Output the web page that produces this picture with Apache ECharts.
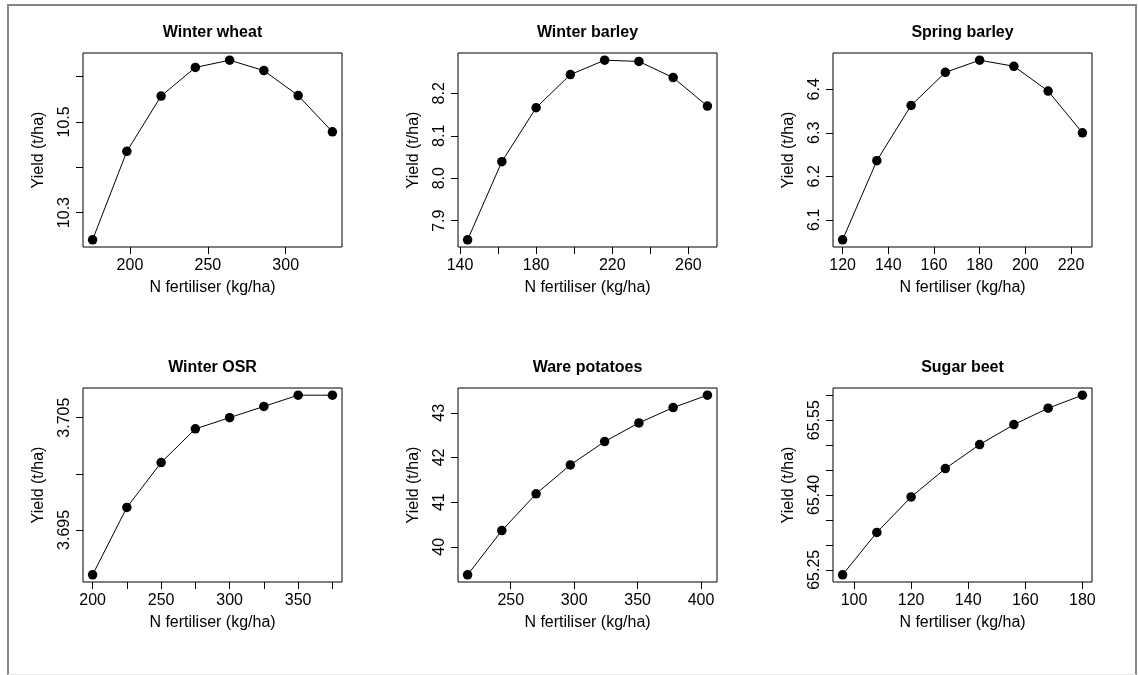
<!DOCTYPE html>
<html>
<head>
<meta charset="utf-8">
<title>N fertiliser response curves</title>
<script src="https://cdn.jsdelivr.net/npm/echarts@6/dist/echarts.min.js"></script>
<style>
    html, body { margin: 0; padding: 0; background: #fff; }
    #frame {
        position: absolute; left: 7px; top: 4px; width: 1130px; height: 671px;
        box-sizing: border-box;
        border-left: 2px solid #858585; border-top: 2px solid #858585; border-right: 2px solid #858585;
        border-bottom: 1px solid #e8e8e8;
    }
    #chart { position: absolute; left: 0; top: 0; width: 1138px; height: 675px; }
</style>
</head>
<body>
<div id="frame"></div>
<div id="chart"></div>
<script>
    // --- data ---
    const titles = ['Winter wheat', 'Winter barley', 'Spring barley', 'Winter OSR', 'Ware potatoes', 'Sugar beet'];

    const wheatN = [176, 198, 220, 242, 264, 286, 308, 330];
    const wheatYield = [10.240, 10.435, 10.557, 10.620, 10.636, 10.613, 10.558, 10.478];

    const wBarleyN = [144, 162, 180, 198, 216, 234, 252, 270];
    const wBarleyYield = [7.855, 8.039, 8.166, 8.244, 8.278, 8.275, 8.237, 8.170];

    const sBarleyN = [120, 135, 150, 165, 180, 195, 210, 225];
    const sBarleyYield = [6.054, 6.236, 6.363, 6.439, 6.467, 6.453, 6.396, 6.300];

    const osrN = [200, 225, 250, 275, 300, 325, 350, 375];
    const osrYield = [3.6910, 3.6970, 3.7010, 3.7040, 3.7050, 3.7060, 3.7070, 3.7070];

    const potatoN = [216, 243, 270, 297, 324, 351, 378, 405];
    const potatoYield = [39.374, 40.365, 41.186, 41.834, 42.356, 42.774, 43.116, 43.394];

    const beetN = [96, 108, 120, 132, 144, 156, 168, 180];
    const beetYield = [65.240, 65.325, 65.396, 65.453, 65.501, 65.541, 65.574, 65.600];

    // tick marks and the labels R kept
    const wheatXTicks = [200, 250, 300];
    const wheatXLabels = [200, 250, 300];
    const wheatYTicks = [10.3, 10.4, 10.5, 10.6];
    const wheatYLabels = [10.3, 10.5];

    const wBarleyXTicks = [140, 160, 180, 200, 220, 240, 260];
    const wBarleyXLabels = [140, 180, 220, 260];
    const wBarleyYTicks = [7.9, 8.0, 8.1, 8.2];
    const wBarleyYLabels = [7.9, 8.0, 8.1, 8.2];

    const sBarleyXTicks = [120, 140, 160, 180, 200, 220];
    const sBarleyXLabels = [120, 140, 160, 180, 200, 220];
    const sBarleyYTicks = [6.1, 6.2, 6.3, 6.4];
    const sBarleyYLabels = [6.1, 6.2, 6.3, 6.4];

    const osrXTicks = [200, 225, 250, 275, 300, 325, 350, 375];
    const osrXLabels = [200, 250, 300, 350];
    const osrYTicks = [3.695, 3.700, 3.705];
    const osrYLabels = [3.695, 3.705];

    const potatoXTicks = [250, 300, 350, 400];
    const potatoXLabels = [250, 300, 350, 400];
    const potatoYTicks = [40, 41, 42, 43];
    const potatoYLabels = [40, 41, 42, 43];

    const beetXTicks = [100, 120, 140, 160, 180];
    const beetXLabels = [100, 120, 140, 160, 180];
    const beetYTicks = [65.25, 65.30, 65.35, 65.40, 65.45, 65.50, 65.55, 65.60];
    const beetYLabels = [65.25, 65.40, 65.55];

    const panels = [
        { n: wheatN, y: wheatYield, xt: wheatXTicks, xl: wheatXLabels, yt: wheatYTicks, yl: wheatYLabels, yDec: 1 },
        { n: wBarleyN, y: wBarleyYield, xt: wBarleyXTicks, xl: wBarleyXLabels, yt: wBarleyYTicks, yl: wBarleyYLabels, yDec: 1 },
        { n: sBarleyN, y: sBarleyYield, xt: sBarleyXTicks, xl: sBarleyXLabels, yt: sBarleyYTicks, yl: sBarleyYLabels, yDec: 1 },
        { n: osrN, y: osrYield, xt: osrXTicks, xl: osrXLabels, yt: osrYTicks, yl: osrYLabels, yDec: 3 },
        { n: potatoN, y: potatoYield, xt: potatoXTicks, xl: potatoXLabels, yt: potatoYTicks, yl: potatoYLabels, yDec: 0 },
        { n: beetN, y: beetYield, xt: beetXTicks, xl: beetXLabels, yt: beetYTicks, yl: beetYLabels, yDec: 2 }
    ];

    // layout (R style panels)
    const colLeft = [83, 458, 833];
    const rowTop = [53, 388];
    const boxW = 259, boxH = 194;
    const FONT = '"Liberation Sans", Arial, Helvetica, sans-serif';

    // R pads the data range by 4% each side
    function padRange(arr) {
        let lo = Math.min.apply(null, arr), hi = Math.max.apply(null, arr);
        let d = (hi - lo) * 0.04;
        return [lo - d, hi + d];
    }

    const chart = echarts.init(document.getElementById('chart'), null, { renderer: 'canvas' });

    const title = [], grid = [], xAxis = [], yAxis = [], series = [];

    panels.forEach(function (p, i) {
        const left = colLeft[i % 3], top = rowTop[Math.floor(i / 3)];
        const xr = padRange(p.n), yr = padRange(p.y);

        title.push({
            text: titles[i],
            left: left + boxW / 2,
            top: top - 28,
            textAlign: 'center',
            padding: 0,
            textStyle: { fontFamily: FONT, fontSize: 16, fontWeight: 'bold', color: '#000' }
        });

        grid.push({
            left: left, top: top, width: boxW, height: boxH,
            show: true, borderColor: '#000', borderWidth: 1, backgroundColor: 'transparent',
            containLabel: false, outerBoundsMode: 'none'
        });

        xAxis.push({
            type: 'value', gridIndex: i, min: xr[0], max: xr[1],
            name: 'N fertiliser (kg/ha)', nameLocation: 'middle', nameGap: 33, nameMoveOverlap: false,
            nameTextStyle: { fontFamily: FONT, fontSize: 16, color: '#000' },
            axisLine: { show: false },
            axisTick: { show: true, inside: false, length: 7, customValues: p.xt, lineStyle: { color: '#000', width: 1 } },
            axisLabel: { customValues: p.xl, margin: 11, fontFamily: FONT, fontSize: 16, color: '#000', hideOverlap: false },
            splitLine: { show: false }
        });

        yAxis.push({
            type: 'value', gridIndex: i, min: yr[0], max: yr[1],
            name: 'Yield (t/ha)', nameLocation: 'middle', nameGap: 36, nameMoveOverlap: false,
            nameTextStyle: { fontFamily: FONT, fontSize: 16, color: '#000' },
            axisLine: { show: false },
            axisTick: { show: true, inside: false, length: 7, customValues: p.yt, lineStyle: { color: '#000', width: 1 } },
            axisLabel: {
                customValues: p.yl, rotate: 90, margin: 10, fontFamily: FONT, fontSize: 16, color: '#000', hideOverlap: false,
                formatter: (function (dec) { return function (v) { return Number(v).toFixed(dec); }; })(p.yDec)
            },
            splitLine: { show: false }
        });

        series.push({
            type: 'line', xAxisIndex: i, yAxisIndex: i,
            data: p.n.map(function (x, k) { return [x, p.y[k]]; }),
            symbol: 'circle', symbolSize: 9.5, showSymbol: true,
            itemStyle: { color: '#000' },
            lineStyle: { color: '#000', width: 1 },
            silent: true
        });
    });

    chart.setOption({
        animation: false,
        backgroundColor: 'transparent',
        title: title,
        grid: grid,
        xAxis: xAxis,
        yAxis: yAxis,
        series: series
    });
</script>
</body>
</html>
